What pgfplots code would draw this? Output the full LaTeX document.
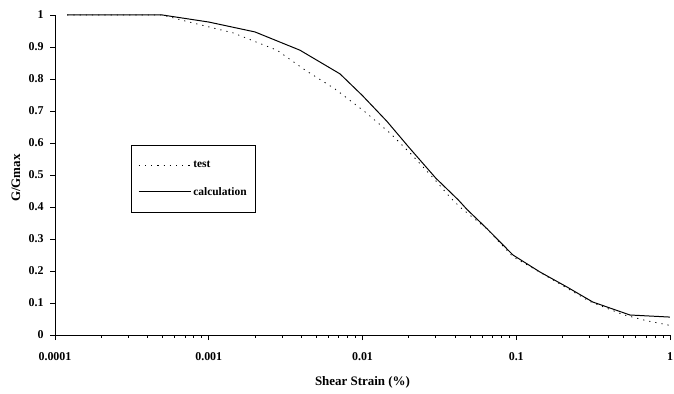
\documentclass[border=0pt]{standalone}
\usepackage{fontspec}
\setmainfont{Liberation Serif}
\usepackage{pgfplots}
\pgfplotsset{compat=1.18}
\pgfplotstableread{
x y
0.00012 1
0.0005 1
0.001 0.978
0.002 0.947
0.00392 0.89
0.00714 0.816
0.01 0.748
0.0144 0.668
0.0183 0.609
0.02 0.587
0.03 0.49
0.042 0.422
0.0479 0.392
0.0646 0.332
0.0952 0.25
0.1426 0.197
0.2138 0.15
0.315 0.103
0.549 0.0625
1.0 0.056
}\calc
\pgfplotstableread{
x y
0.00012 1
0.0005 1
0.00072 0.98
0.00144 0.944
0.00278 0.89
0.00423 0.828
0.00662 0.769
0.0104 0.697
0.0151 0.631
0.021 0.5625
0.0305 0.478
0.037 0.431
0.043 0.40
0.065 0.33
0.095 0.245
0.15 0.19
0.3 0.105
0.5 0.063
0.7 0.045
1.0 0.03
}\test
\begin{document}
\begin{tikzpicture}
\useasboundingbox (0,0) rectangle (674bp,394bp);
\begin{axis}[
  at={(55bp,59bp)}, anchor=south west,
  scale only axis, width=615bp, height=320bp,
  xmode=log, xmin=1e-4, xmax=1, ymin=0, ymax=1,
  axis lines=left, axis line style={-, line width=0.8pt},
  xtick={1e-4,1e-3,1e-2,1e-1,1},
  xticklabels={0.0001,0.001,0.01,0.1,1},
  ytick={0,0.1,0.2,0.3,0.4,0.5,0.6,0.7,0.8,0.9,1},
  yticklabels={0,0.1,0.2,0.3,0.4,0.5,0.6,0.7,0.8,0.9,1},
  minor xtick={}, minor ytick={},
  tick align=outside, major tick length=5bp,
  tick style={black, line width=0.8pt},
  /pgf/number format/assume math mode=true,
  tick label style={font=\bfseries\fontsize{12}{13}\selectfont},
  xticklabel style={yshift=-9bp},
  yticklabel style={xshift=-3bp},
  xlabel={Shear Strain (\%)},
  ylabel={G/Gmax},
  label style={font=\bfseries\fontsize{13}{14}\selectfont},
  xlabel style={at={(axis description cs:0.5,0)}, anchor=center, yshift=-47bp},
  ylabel style={at={(axis description cs:-0.0634,0.49)}, anchor=center},
  legend style={at={(rel axis cs:0.1236,0.5938)}, anchor=north west, draw=black,
    line width=0.6pt,
    font=\bfseries\fontsize{11.5}{12}\selectfont, inner xsep=7bp, inner ysep=14bp,
    row sep=14bp},
  legend cell align=left,
  legend image code/.code={\draw[#1] (0bp,0bp) -- (43bp,0bp); \path (0bp,0bp) -- (52bp,0bp);},
]
\addplot[black, line width=0.8pt, dash pattern=on 1.2bp off 5bp] table {\test};
\addlegendentry{test}
\addplot[black, line width=1pt] table {\calc};
\addlegendentry{calculation}
\end{axis}
\end{tikzpicture}
\end{document}
